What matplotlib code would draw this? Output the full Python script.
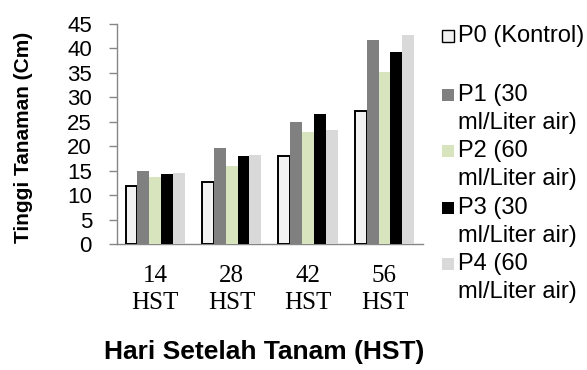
import matplotlib.pyplot as plt
from matplotlib.patches import Rectangle
import numpy as np

# Data
categories = ['14\nHST', '28\nHST', '42\nHST', '56\nHST']
series_names = ['P0 (Kontrol)', 'P1 (30\nml/Liter air)', 'P2 (60\nml/Liter air)',
                'P3 (30\nml/Liter air)', 'P4 (60\nml/Liter air)']
p0 = [11.9, 12.7, 18.1, 27.2]
p1 = [15.0, 19.6, 25.0, 41.6]
p2 = [13.7, 16.0, 22.9, 35.1]
p3 = [14.4, 18.1, 26.5, 39.2]
p4 = [14.5, 18.2, 23.3, 42.7]
series = [p0, p1, p2, p3, p4]

colors = ['#f2f2f2', '#808080', '#d7e4bd', '#000000', '#d9d9d9']
edges = ['#000000', 'none', 'none', 'none', 'none']

W, H = 587, 370
SANS = 'Liberation Sans'
SERIF = 'Liberation Serif'

fig = plt.figure(figsize=(W / 100, H / 100), dpi=100)
ax = fig.add_axes([117 / W, 1 - 244.3 / H, (422.7 - 117) / W, (244.3 - 23.7) / H])

x = np.arange(len(categories))
bw = 0.155
for k, vals in enumerate(series):
    ax.bar(x + (k - 2) * bw, vals, width=bw, color=colors[k],
           edgecolor=edges[k], linewidth=1.4 if k == 0 else 0, zorder=3)

ax.set_xlim(-0.5, len(categories) - 0.5)
ax.set_ylim(0, 45)
ax.set_yticks(np.arange(0, 46, 5))
ax.set_xticks(x)
ax.set_xticklabels(categories, fontfamily=SERIF, fontsize=18, linespacing=1.3)
for lab in ax.get_yticklabels():
    lab.set_fontfamily(SANS)
    lab.set_fontsize(16)

ax.tick_params(axis='y', length=6, width=1, color='#868686', pad=12)
ax.tick_params(axis='x', length=0, pad=15)
for s in ['top', 'right']:
    ax.spines[s].set_visible(False)
for s in ['left', 'bottom']:
    ax.spines[s].set_color('#868686')
    ax.spines[s].set_linewidth(1)

fig.text(24 / W, 1 - 137 / H, 'Tinggi Tanaman (Cm)', rotation=90, ha='center',
         va='center', fontfamily=SANS, fontweight='bold', fontsize=15)
fig.text(264 / W, 1 - 352 / H, 'Hari Setelah Tanam (HST)', ha='center',
         va='center', fontfamily=SANS, fontweight='bold', fontsize=19)

# manual legend, Excel style (handle next to first line of each entry)
line_h = 28.3
row_y = [36, 95, 151, 208, 264]
for k, name in enumerate(series_names):
    y0 = row_y[k]
    sq = 11.5
    fig.add_artist(Rectangle((442 / W, 1 - (y0 + sq / 2) / H), sq / W, sq / H,
                             transform=fig.transFigure, facecolor=colors[k],
                             edgecolor='#000000' if k == 0 else 'none', linewidth=1))
    for j, line in enumerate(name.split('\n')):
        fig.text(458 / W, 1 - (y0 + j * line_h) / H, line, ha='left', va='center',
                 fontfamily=SANS, fontsize=17)

fig.savefig('out.png', dpi=100)
